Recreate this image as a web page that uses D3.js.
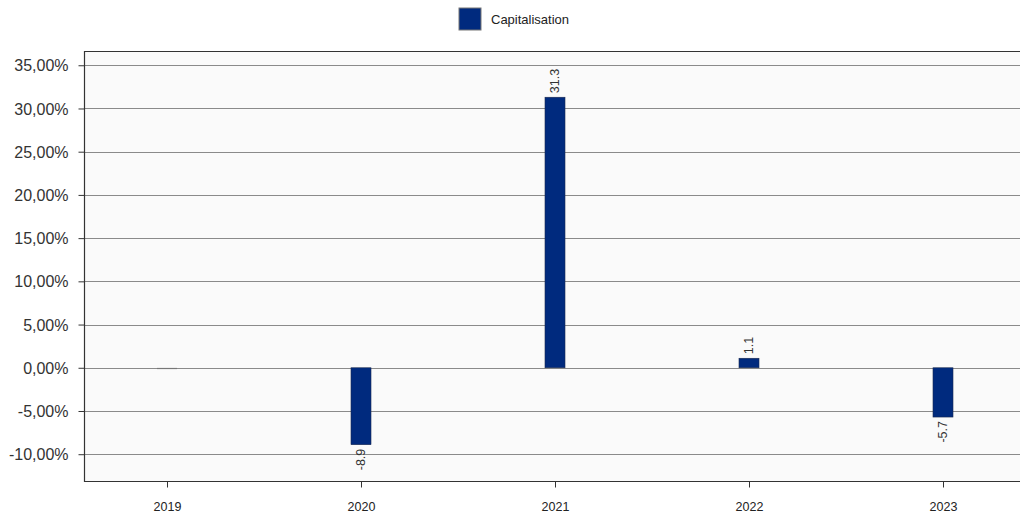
<!DOCTYPE html>
<html>
<head>
<meta charset="utf-8">
<script src="https://cdn.jsdelivr.net/npm/d3@7"></script>
<style>
  html, body { margin: 0; padding: 0; background: #fff; }
  svg { display: block; font-family: "Liberation Sans", Arial, sans-serif; }
</style>
</head>
<body>
<svg id="chart" width="1020" height="518"></svg>
<script>
// Yearly capitalisation change, in percent
const years = ["2019", "2020", "2021", "2022", "2023"];
const capitalisation = [0, -8.9, 31.3, 1.1, -5.7];
const yTicks = [-10, -5, 0, 5, 10, 15, 20, 25, 30, 35];
const seriesName = "Capitalisation";

const W = 1020, H = 518;
const plot = { left: 84, top: 51, right: 1020, bottom: 481 };
const barColor = "#002a7e";

const svg = d3.select("#chart");

const x = d3.scalePoint()
  .domain(years)
  .range([167, 943]);

const y = d3.scaleLinear()
  .domain([-13.1, 36.65])
  .range([plot.bottom, plot.top]);

const fmt = v => d3.format(".2f")(v).replace(".", ",").replace("−", "-") + "%";

// plot background
svg.append("rect")
  .attr("x", plot.left).attr("y", plot.top)
  .attr("width", plot.right - plot.left).attr("height", plot.bottom - plot.top)
  .attr("fill", "#fafafa");

// horizontal grid lines
svg.append("g")
  .selectAll("line")
  .data(yTicks)
  .join("line")
  .attr("x1", plot.left).attr("x2", plot.right)
  .attr("y1", d => Math.round(y(d)) + 0.5).attr("y2", d => Math.round(y(d)) + 0.5)
  .attr("stroke", "#8a8a8a").attr("stroke-width", 1);

// frame: top, left, bottom
svg.append("path")
  .attr("d", `M${plot.right},${plot.top + 0.5}H${plot.left + 0.5}V${plot.bottom + 0.5}H${plot.right}`)
  .attr("fill", "none").attr("stroke", "#333").attr("stroke-width", 1.2);

// y axis
const yAxis = d3.axisLeft(y).tickValues(yTicks).tickFormat(fmt).tickSize(6).tickPadding(10);
const gy = svg.append("g")
  .attr("transform", `translate(${plot.left + 0.5},0)`)
  .call(yAxis);
gy.select(".domain").remove();
gy.selectAll(".tick line").attr("stroke", "#333");
gy.selectAll(".tick text")
  .attr("fill", "#333").style("font-size", "16px")
  .attr("dy", "0.35em");

// x axis
const xAxis = d3.axisBottom(x).tickSize(6).tickPadding(15);
const gx = svg.append("g")
  .attr("transform", `translate(0,${plot.bottom + 0.5})`)
  .call(xAxis);
gx.select(".domain").remove();
gx.selectAll(".tick line").attr("stroke", "#333");
gx.selectAll(".tick text").attr("fill", "#222").style("font-size", "12.5px");

// bars
const data = years.map((yr, i) => ({ year: yr, value: capitalisation[i] }));
const barW = 20;

svg.append("g")
  .selectAll("rect")
  .data(data.filter(d => d.value !== 0))
  .join("rect")
  .attr("x", d => x(d.year) - barW / 2)
  .attr("y", d => y(Math.max(0, d.value)))
  .attr("width", barW)
  .attr("height", d => Math.abs(y(d.value) - y(0)))
  .attr("fill", barColor)
  .attr("stroke", "#1a2a50").attr("stroke-width", 0.6);

// zero-valued entries show only as a flat marker on the baseline
svg.append("g")
  .selectAll("line")
  .data(data.filter(d => d.value === 0))
  .join("line")
  .attr("x1", d => x(d.year) - barW / 2).attr("x2", d => x(d.year) + barW / 2)
  .attr("y1", Math.round(y(0)) + 0.5).attr("y2", Math.round(y(0)) + 0.5)
  .attr("stroke", "#777").attr("stroke-width", 1.2);

// value labels, rotated, at the bar end
svg.append("g")
  .selectAll("text")
  .data(data.filter(d => d.value !== 0))
  .join("text")
  .attr("transform", d => {
    const yy = d.value >= 0 ? y(d.value) - 4 : y(d.value) + 4;
    return `translate(${x(d.year) + 4},${yy}) rotate(-90)`;
  })
  .attr("text-anchor", d => d.value >= 0 ? "start" : "end")
  .attr("fill", "#333")
  .style("font-size", "12.5px")
  .text(d => String(d.value));

// legend
const lg = svg.append("g").attr("transform", "translate(459,8)");
lg.append("rect")
  .attr("width", 22).attr("height", 22)
  .attr("fill", barColor).attr("stroke", "#777").attr("stroke-width", 1);
lg.append("text")
  .attr("x", 32).attr("y", 11).attr("dy", "0.35em")
  .attr("fill", "#222").style("font-size", "13px")
  .text(seriesName);
</script>
</body>
</html>
